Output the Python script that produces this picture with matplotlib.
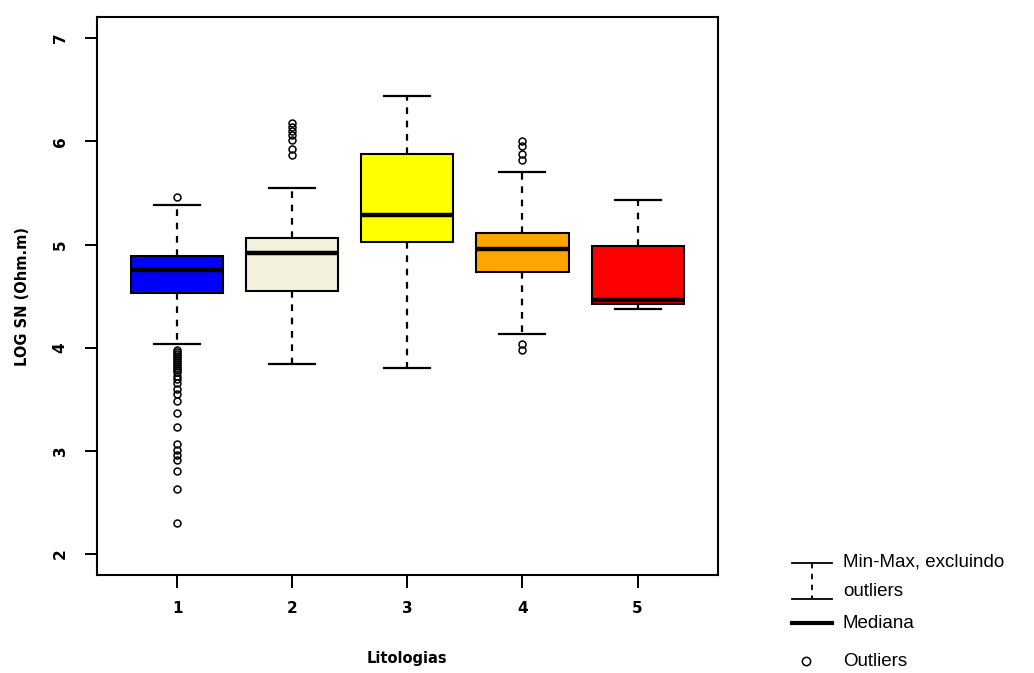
import matplotlib
matplotlib.use("Agg")
import matplotlib.pyplot as plt
from matplotlib.lines import Line2D

# ---- data ----
categories = ["1", "2", "3", "4", "5"]
colors = ["#0000FF", "#F3F1DC", "#FFFF00", "#FFA500", "#FF0000"]
whislo = [4.035, 3.84, 3.80, 4.13, 4.38]
q1 = [4.53, 4.55, 5.02, 4.73, 4.42]
med = [4.75, 4.92, 5.285, 4.955, 4.46]
q3 = [4.89, 5.06, 5.876, 5.115, 4.985]
whishi = [5.38, 5.545, 6.44, 5.70, 5.43]
fliers = [
    [5.46, 3.98, 3.96, 3.94, 3.92, 3.90, 3.88, 3.86, 3.84, 3.82, 3.80, 3.78,
     3.76, 3.73, 3.70, 3.66, 3.60, 3.55, 3.48, 3.37, 3.23, 3.07, 3.01, 2.96,
     2.91, 2.81, 2.63, 2.30],
    [6.18, 6.14, 6.10, 6.06, 6.01, 5.93, 5.87],
    [],
    [6.00, 5.95, 5.88, 5.82, 4.04, 3.98],
    [],
]
yticks = [2, 3, 4, 5, 6, 7]

fig = plt.figure(figsize=(10.34, 6.73), dpi=100)
ax = fig.add_axes([0.0935, 0.146, 0.601, 0.828])

stats = []
for i in range(len(categories)):
    stats.append(dict(med=med[i], q1=q1[i], q3=q3[i], whislo=whislo[i],
                      whishi=whishi[i], fliers=fliers[i], label=categories[i]))

bp = ax.bxp(stats, positions=range(1, len(categories) + 1), widths=0.8,
            patch_artist=True, showfliers=True,
            boxprops=dict(edgecolor="black", linewidth=1.5),
            medianprops=dict(color="black", linewidth=3.2, solid_capstyle="butt"),
            whiskerprops=dict(color="black", linewidth=1.6, linestyle=(0, (3, 3))),
            capprops=dict(color="black", linewidth=1.6),
            capwidths=0.4,
            flierprops=dict(marker="o", markersize=5, markerfacecolor="none",
                            markeredgecolor="black", markeredgewidth=1.1))
for patch, c in zip(bp["boxes"], colors):
    patch.set_facecolor(c)

ax.set_xlim(0.3, 5.7)
ax.set_ylim(1.8, 7.2)
ax.set_yticks(yticks)
ax.set_yticklabels([str(t) for t in yticks], rotation=90, va="center",
                   fontsize=11, fontweight="bold")
ax.set_xticks(range(1, len(categories) + 1))
ax.set_xticklabels(categories, fontsize=11, fontweight="bold")
ax.tick_params(axis="both", length=9, width=1.4, color="black")
ax.tick_params(axis="x", pad=10)
ax.tick_params(axis="y", pad=12)
for s in ax.spines.values():
    s.set_linewidth(1.5)

ax.set_xlabel("Litologias", fontsize=10.5, fontweight="bold", labelpad=25)
ax.set_ylabel("LOG SN (Ohm.m)", fontsize=10.5, fontweight="bold", labelpad=16)

# ---- manual legend (figure pixel coords -> fractions) ----
W, H = 1034, 673
def fx(x):
    return x / W
def fy(y):
    return 1 - y / H

lf = dict(family="Liberation Sans", fontsize=13.5, va="center", ha="left")
# bracket symbol
fig.add_artist(Line2D([fx(792), fx(832)], [fy(563), fy(563)], color="black", lw=1.3))
fig.add_artist(Line2D([fx(812), fx(812)], [fy(563), fy(598)], color="black", lw=1.3,
                      linestyle=(0, (3, 3))))
fig.add_artist(Line2D([fx(792), fx(832)], [fy(599), fy(599)], color="black", lw=1.3))
fig.text(fx(843), fy(562), "Min-Max, excluindo", **lf)
fig.text(fx(843), fy(592), "outliers", **lf)
# median
fig.add_artist(Line2D([fx(792), fx(832)], [fy(623), fy(623)], color="black", lw=3))
fig.text(fx(843), fy(623), "Mediana", **lf)
# outliers
fig.add_artist(Line2D([fx(806)], [fy(661)], marker="o", markersize=6,
                      markerfacecolor="none", markeredgecolor="black",
                      markeredgewidth=1.1, linestyle="none"))
fig.text(fx(843), fy(661), "Outliers", **lf)

fig.savefig("out.png", dpi=100)
